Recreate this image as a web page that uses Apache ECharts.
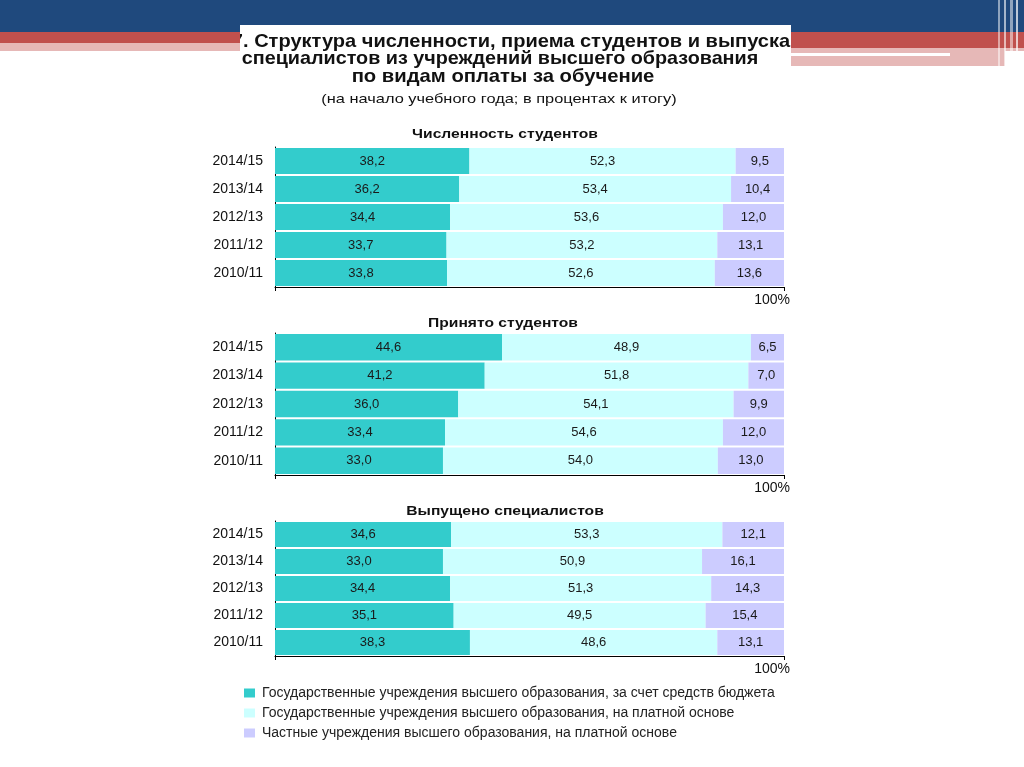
<!DOCTYPE html>
<html>
<head>
<meta charset="utf-8">
<script src="https://cdn.jsdelivr.net/npm/echarts@6/dist/echarts.min.js"></script>
<style>html,body{margin:0;padding:0;background:#fff}#c{width:1024px;height:767px}</style>
</head>
<body>
<div id="c"></div>
<script>
var categories = ['2014/15','2013/14','2012/13','2011/12','2010/11'];
var seriesNames = [
  'Государственные учреждения высшего образования, за счет средств бюджета',
  'Государственные учреждения высшего образования, на платной основе',
  'Частные учреждения высшего образования, на платной основе'
];
var panelTitles = ['Численность студентов','Принято студентов','Выпущено специалистов'];
var enrolledBudget = [38.2,36.2,34.4,33.7,33.8];
var enrolledPaid = [52.3,53.4,53.6,53.2,52.6];
var enrolledPrivate = [9.5,10.4,12.0,13.1,13.6];
var admittedBudget = [44.6,41.2,36.0,33.4,33.0];
var admittedPaid = [48.9,51.8,54.1,54.6,54.0];
var admittedPrivate = [6.5,7.0,9.9,12.0,13.0];
var graduatedBudget = [34.6,33.0,34.4,35.1,38.3];
var graduatedPaid = [53.3,50.9,51.3,49.5,48.6];
var graduatedPrivate = [12.1,16.1,14.3,15.4,13.1];
var mainTitle = ['7. Структура численности, приема студентов и выпуска','специалистов из учреждений высшего образования','по видам оплаты за обучение'];
var subTitle = '(на начало учебного года; в процентах к итогу)';

var panels = [
  [enrolledBudget, enrolledPaid, enrolledPrivate],
  [admittedBudget, admittedPaid, admittedPrivate],
  [graduatedBudget, graduatedPaid, graduatedPrivate]
];
var colors = ['#33CCCC','#CCFFFF','#CCCCFF'];
var grids = [{top:147,height:140,ty:135},{top:333,height:142,ty:324},{top:521,height:135,ty:512}];
var FONT = 'Liberation Sans, Arial, sans-serif';

var chart = echarts.init(document.getElementById('c'));
var option = {
  animation:false,
  textStyle:{fontFamily:FONT},
  grid: grids.map(function(g){return {left:275,width:509,top:g.top,height:g.height,containLabel:false};}),
  xAxis: grids.map(function(g,i){return {
    type:'value',gridIndex:i,min:0,max:100,interval:100,
    splitLine:{show:false},
    axisLine:{show:true,lineStyle:{color:'#000',width:1}},
    axisTick:{show:true,length:4,lineStyle:{color:'#000'}},
    axisLabel:{show:true,showMinLabel:true,showMaxLabel:true,margin:6,fontSize:14,color:'#111',align:'right',
      padding:[0,-6,0,0],
      formatter:function(v){return v===100?'100%':'';}}
  };}),
  yAxis: grids.map(function(g,i){return {
    type:'category',gridIndex:i,data:categories,inverse:true,
    axisLine:{show:true,lineStyle:{color:'#000',width:1}},
    axisTick:{show:false},
    axisLabel:{fontSize:14,color:'#111',margin:12}
  };}),
  legend:{
    orient:'vertical',left:239,top:681,itemGap:6,itemWidth:11,itemHeight:9,
    icon:'rect',data:seriesNames,
    textStyle:{fontSize:14,color:'#222',fontFamily:FONT,padding:[0,0,0,2]},
    selectedMode:false
  },
  series: []
};
panels.forEach(function(p,pi){
  p.forEach(function(arr,si){
    option.series.push({
      type:'bar',name:seriesNames[si],xAxisIndex:pi,yAxisIndex:pi,stack:'s'+pi,
      data:arr,barCategoryGap:'7%',
      itemStyle:{color:colors[si]},
      label:{show:true,position:'inside',fontSize:13,color:'#1a1a1a',
        formatter:function(d){return d.value.toFixed(1).replace('.',',');}}
    });
  });
});
var TF = 'Liberation Sans, Arial, sans-serif';
function ttext(x,y,t,size,bold,sx){
  return {type:'text',x:x,y:y,z:5,scaleX:sx,style:{text:t,textAlign:'center',textVerticalAlign:'middle',
    fontSize:size,fontWeight:bold?'bold':'normal',fill:'#111',fontFamily:TF}};
}
option.graphic = [
  {type:'rect',shape:{x:0,y:0,width:1024,height:32},style:{fill:'#1F497D'},z:1},
  {type:'rect',shape:{x:0,y:32,width:1024,height:16},style:{fill:'#C0504D'},z:1},
  {type:'rect',shape:{x:0,y:48,width:1024,height:3},style:{fill:'#E6B8B7'},z:1},
  {type:'rect',shape:{x:790,y:51,width:215,height:15},style:{fill:'#E6B8B7'},z:1},
  {type:'rect',shape:{x:790,y:53,width:160,height:3},style:{fill:'#ffffff'},z:2},
  {type:'rect',shape:{x:998,y:0,width:2,height:66},style:{fill:'rgba(255,255,255,0.5)'},z:3},
  {type:'rect',shape:{x:1004,y:0,width:2,height:66},style:{fill:'rgba(255,255,255,0.6)'},z:3},
  {type:'rect',shape:{x:1010,y:0,width:3,height:66},style:{fill:'rgba(255,255,255,0.5)'},z:3},
  {type:'rect',shape:{x:1016,y:0,width:2,height:66},style:{fill:'rgba(255,255,255,0.7)'},z:3},
  {type:'rect',shape:{x:240,y:25,width:551,height:43},style:{fill:'#ffffff'},z:4},
  ttext(511,42,mainTitle[0],19,true,1.055),
  ttext(500,59,mainTitle[1],19,true,1.04),
  ttext(503,77,mainTitle[2],19,true,1.065),
  ttext(499,99,subTitle,13,false,1.26),
  ttext(505,grids[0].ty,panelTitles[0],12.5,true,1.25),
  ttext(503,grids[1].ty,panelTitles[1],12.5,true,1.25),
  ttext(505,grids[2].ty,panelTitles[2],12.5,true,1.25),
  {type:'rect',shape:{x:0,y:0,width:240,height:32},style:{fill:'#1F497D'},z:6},
  {type:'rect',shape:{x:0,y:32,width:240,height:11},style:{fill:'#C0504D'},z:6},
  {type:'rect',shape:{x:0,y:43,width:240,height:5},style:{fill:'#E6B8B7'},z:6}
];
chart.setOption(option);
</script>
</body>
</html>
